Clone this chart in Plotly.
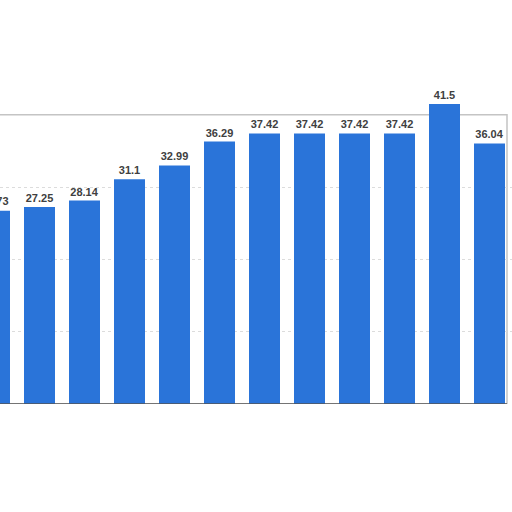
import plotly.graph_objects as go

categories = ["2007", "2008", "2009", "2010", "2011", "2012", "2013", "2014", "2015", "2016", "2017", "2018"]
values = [26.73, 27.25, 28.14, 31.1, 32.99, 36.29, 37.42, 37.42, 37.42, 37.42, 41.5, 36.04]
labels = ["26.73", "27.25", "28.14", "31.1", "32.99", "36.29", "37.42", "37.42", "37.42", "37.42", "41.5", "36.04"]

PX_PER_CAT = 45
PX_PER_UNIT = 7.23
FONT = dict(family="Liberation Sans, Arial, sans-serif", size=11, color="#404040", weight="bold")

# first bar is partially outside the view; its label is drawn as an annotation
bar_text = [""] + labels[1:]

x0 = 5.5 / PX_PER_CAT
x_span = 512 / PX_PER_CAT

fig = go.Figure()
fig.add_trace(go.Bar(
    x=list(range(len(categories))),
    y=values,
    text=bar_text,
    textposition="outside",
    textfont=FONT,
    marker=dict(color="#2a74d9", line=dict(width=0)),
    cliponaxis=False,
    width=31/45,
    hoverinfo="skip",
))

# label of the partially hidden first bar (x converted from axis units to paper units)
fig.add_annotation(xref="paper", yref="y", x=(0 - x0) / x_span, y=values[0], text=labels[0],
                   showarrow=False, xanchor="center", yanchor="bottom", yshift=2, font=FONT)

# frame of the plot area
fig.add_shape(type="rect", xref="paper", yref="y", x0=-0.05, x1=507/512, y0=0, y1=40,
              line=dict(color="#c4c4c4", width=1.5), layer="below")
fig.add_shape(type="line", xref="paper", yref="y", x0=-0.05, x1=507/512, y0=0, y1=0,
              line=dict(color="#555555", width=1.5), layer="above")

fig.update_layout(
    width=512, height=512,
    margin=dict(l=0, r=0, t=0, b=512 - 404),
    paper_bgcolor="white", plot_bgcolor="white",
    showlegend=False,
    bargap=14/45,
    xaxis=dict(range=[x0, x0 + x_span], tickvals=list(range(len(categories))),
               ticktext=categories, showticklabels=False, showgrid=False, zeroline=False,
               showline=False, ticks=""),
    yaxis=dict(range=[0, 404 / PX_PER_UNIT], tickvals=[10, 20, 30], showticklabels=False,
               showgrid=True, gridcolor="#dcdcdc", griddash="dot", gridwidth=1,
               zeroline=False, showline=False, ticks=""),
)

fig.write_html("out.html", config={"displayModeBar": False},
               post_script="document.body.style.margin='0';document.body.style.overflow='hidden';")
